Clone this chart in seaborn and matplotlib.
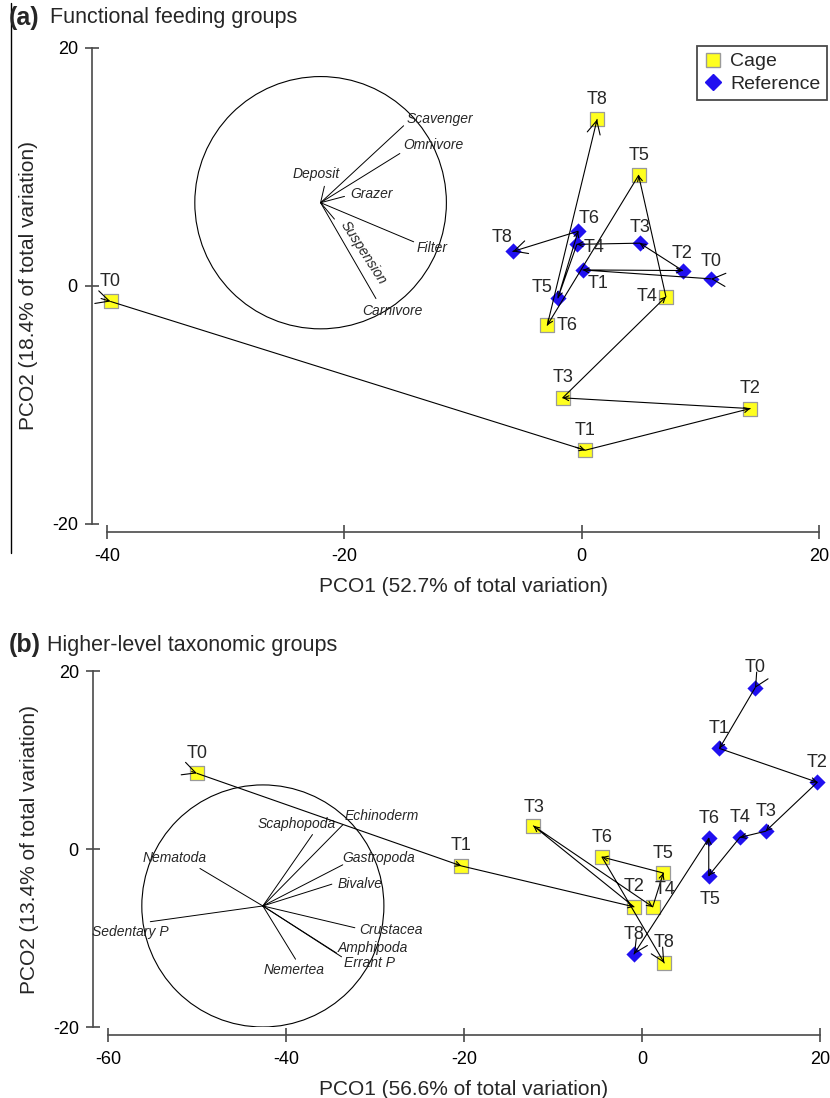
import numpy as np
import pandas as pd
import seaborn as sns
import matplotlib.pyplot as plt
from matplotlib.lines import Line2D
from matplotlib.patches import Circle

TIMES = ["T0", "T1", "T2", "T3", "T4", "T5", "T6", "T8"]

# (a) functional feeding groups - PCO scores
A_CAGE_X = [-39.7, 0.3, 14.2, -1.6, 7.1, 4.8, -2.9, 1.3]
A_CAGE_Y = [-1.3, -13.8, -10.3, -9.4, -0.9, 9.3, -3.3, 14.0]
A_REF_X = [10.9, 0.1, 8.5, 4.9, -0.4, -2.0, -0.3, -5.8]
A_REF_Y = [0.6, 1.35, 1.3, 3.6, 3.5, -1.0, 4.6, 2.9]
A_VEC_NAMES = ["Scavenger", "Omnivore", "Deposit", "Grazer", "Filter", "Suspension", "Carnivore"]
A_VEC_X = [0.66, 0.63, 0.03, 0.19, 0.74, 0.11, 0.44]
A_VEC_Y = [0.61, 0.39, 0.13, 0.05, -0.31, -0.13, -0.76]

# (b) higher-level taxonomic groups
B_CAGE_X = [-50.0, -20.3, -0.9, -12.2, 1.2, 2.4, -4.5, 2.5]
B_CAGE_Y = [8.5, -1.9, -6.5, 2.6, -6.5, -2.7, -0.9, -12.8]
B_REF_X = [12.7, 8.7, 19.7, 13.9, 11.0, 7.5, 7.5, -0.9]
B_REF_Y = [18.1, 11.3, 7.5, 2.0, 1.3, -3.0, 1.2, -11.8]
B_VEC_NAMES = ["Echinoderm", "Scaphopoda", "Gastropoda", "Bivalve", "Crustacea",
               "Amphipoda", "Errant P", "Nemertea", "Nematoda", "Sedentary P"]
B_VEC_X = [0.66, 0.41, 0.66, 0.57, 0.76, 0.61, 0.65, 0.27, -0.52, -0.93]
B_VEC_Y = [0.67, 0.59, 0.34, 0.18, -0.18, -0.39, -0.42, -0.44, 0.31, -0.13]

YELLOW = "#ffff1f"
BLUE = "#2010f0"
AXCOL = "#4a4a4a"

sns.set_style("white")
plt.rcParams["font.family"] = ["Liberation Sans", "DejaVu Sans"]

W, H = 830, 1098
fig = plt.figure(figsize=(W / 100, H / 100), dpi=100)

# label placement (pixels): default is centred above the marker
A_LAB = {("Cage", "T4"): (-8, 0, "right"), ("Cage", "T6"): (9, 0, "left"),
         ("Reference", "T1"): (5, -14, "left"), ("Reference", "T4"): (7, -3, "left"),
         ("Reference", "T5"): (-5, 10, "right"), ("Reference", "T6"): (1, 13, "left"),
         ("Reference", "T8"): (-11, 14, "center"), ("Reference", "T0"): (0, 17, "center"),
         ("Reference", "T2"): (0, 17, "center"), ("Reference", "T3"): (0, 16, "center")}
B_LAB = {("Reference", "T5"): (1, -24, "center"), ("Cage", "T4"): (12, 17, "center"),
         ("Cage", "T3"): (1, 18, "center")}
A_VLAB = {"Scavenger": (3, 7, "left", 0), "Omnivore": (3, 9, "left", 0),
          "Deposit": (-8, 12, "center", 0), "Grazer": (6, 2, "left", 0),
          "Filter": (3, -6, "left", 0), "Suspension": (29, -34, "center", -57),
          "Carnivore": (-14, -12, "left", 0)}
B_VLAB = {"Echinoderm": (2, 9, "left"), "Scaphopoda": (-16, 11, "center"),
          "Gastropoda": (0, 7, "left"), "Bivalve": (6, 0, "left"),
          "Crustacea": (4, -2, "left"), "Amphipoda": (1, 5, "left"),
          "Errant P": (2, -6, "left"), "Nemertea": (-1, -11, "center"),
          "Nematoda": (-25, 10, "center"), "Sedentary P": (-20, -10, "center")}


def head(ax, p_from, p_to, big):
    p_from, p_to = np.asarray(p_from), np.asarray(p_to)
    tail = p_to - 0.02 * (p_to - p_from)
    ms = 19 if big else 7
    ax.annotate("", xy=p_to, xytext=tail,
                arrowprops=dict(arrowstyle="->,head_length=0.5,head_width=0.25",
                                color="black", lw=0.8, shrinkA=0, shrinkB=0,
                                mutation_scale=ms), zorder=4)


def panel(ax, cx, cy, rx, ry, xticks, labpos, vnames, vx, vy, vlab, centre, radius,
          xlab, ylab, legend):
    df = pd.concat([
        pd.DataFrame({"x": cx, "y": cy, "time": TIMES, "site": "Cage"}),
        pd.DataFrame({"x": rx, "y": ry, "time": TIMES, "site": "Reference"})])

    # vector overlay
    ax.add_patch(Circle(centre, radius, fill=False, lw=0.8, color="black", zorder=1))
    for name, lx, ly in zip(vnames, vx, vy):
        ex, ey = centre[0] + radius * lx, centre[1] + radius * ly
        ax.plot([centre[0], ex], [centre[1], ey], color="black", lw=0.7, zorder=1)
        dx, dy, ha, *rot = vlab[name]
        ax.annotate(name, (ex, ey), xytext=(dx, dy), textcoords="offset pixels",
                    ha=ha, va="center", fontsize=10, style="italic",
                    rotation=rot[0] if rot else 0, rotation_mode="anchor")

    sub = df[df.site == "Cage"]
    sns.scatterplot(data=sub, x="x", y="y", marker="s", s=100, color=YELLOW,
                    edgecolor="#9a9a9a", linewidth=0.9, ax=ax, zorder=2,
                    clip_on=False, legend=False)
    sub = df[df.site == "Reference"]
    sns.scatterplot(data=sub, x="x", y="y", marker="D", s=68, color=BLUE,
                    linewidth=0, ax=ax, zorder=2, clip_on=False, legend=False)

    for site in ["Cage", "Reference"]:
        sub = df[df.site == site]
        sns.lineplot(data=sub, x="x", y="y", sort=False, estimator=None,
                     color="black", lw=0.8, ax=ax, zorder=3, legend=False)
        pts = sub[["x", "y"]].to_numpy()
        # start marker at T0, small heads along the path, bigger head at T8
        head(ax, 2 * pts[0] - pts[1], pts[0], True)
        for i in range(1, len(pts)):
            head(ax, pts[i - 1], pts[i], i == len(pts) - 1)
        for t, px, py in zip(sub.time, sub.x, sub.y):
            dx, dy, ha = labpos.get((site, t), (0, 20, "center"))
            ax.annotate(t, (px, py), xytext=(dx, dy), textcoords="offset pixels",
                        ha=ha, va="center", fontsize=13, zorder=5)

    ax.set_xlim(xticks[0], xticks[-1])
    ax.set_ylim(-20, 20)
    ax.set_xticks(xticks)
    ax.set_yticks([-20, 0, 20])
    ax.set_xticklabels([f"{t:g}" for t in xticks])
    ax.set_yticklabels(["-20", "0", "20"])
    for s in ["top", "right"]:
        ax.spines[s].set_visible(False)
    ax.spines["left"].set_bounds(-20, 20)
    ax.spines["bottom"].set_bounds(xticks[0], xticks[-1])
    ax.spines["left"].set_position(("outward", 11))
    ax.spines["bottom"].set_position(("outward", 6))
    for s in ["left", "bottom"]:
        ax.spines[s].set_color(AXCOL)
        ax.spines[s].set_linewidth(1.2)
    ax.tick_params(direction="inout", length=10, width=1.2, color=AXCOL,
                   labelsize=13, labelcolor="black", left=True, bottom=True)
    ax.tick_params(axis="x", pad=6)
    ax.tick_params(axis="y", pad=5)
    ax.set_xlabel(xlab, fontsize=15, labelpad=9)
    ax.set_ylabel(ylab, fontsize=15, labelpad=10)
    ax.grid(False)

    if legend:
        handles = [Line2D([], [], ls="none", marker="s", markerfacecolor=YELLOW,
                          markeredgecolor="#9a9a9a", markersize=10.5, label="Cage"),
                   Line2D([], [], ls="none", marker="D", markerfacecolor=BLUE,
                          markeredgecolor=BLUE, markersize=8.5, label="Reference")]
        leg = ax.legend(handles=handles, loc="upper right", fontsize=14,
                        bbox_to_anchor=(827 / W, 1 - 46 / H),
                        bbox_transform=fig.transFigure, fancybox=False,
                        framealpha=1, borderpad=0.35, handletextpad=0.35,
                        labelspacing=0.25, handlelength=1.0, borderaxespad=0)
        leg.get_frame().set_edgecolor(AXCOL)
        leg.get_frame().set_linewidth(1.3)


ax_a = fig.add_axes([107 / W, 1 - 524 / H, 712 / W, 476 / H])
panel(ax_a, A_CAGE_X, A_CAGE_Y, A_REF_X, A_REF_Y, [-40, -20, 0, 20], A_LAB,
      A_VEC_NAMES, A_VEC_X, A_VEC_Y, A_VLAB, (-22.0, 7.0), 10.6,
      "PCO1 (52.7% of total variation)", "PCO2 (18.4% of total variation)", True)

ax_b = fig.add_axes([108 / W, 1 - 1027 / H, 712 / W, 356 / H])
panel(ax_b, B_CAGE_X, B_CAGE_Y, B_REF_X, B_REF_Y, [-60, -40, -20, 0, 20], B_LAB,
      B_VEC_NAMES, B_VEC_X, B_VEC_Y, B_VLAB, (-42.6, -6.4), 13.6,
      "PCO1 (56.6% of total variation)", "PCO2 (13.4% of total variation)", False)

# panel titles
fig.text(9 / W, 1 - 18 / H, "(a)", fontsize=18, weight="bold", va="center")
fig.text(50 / W, 1 - 18 / H, "Functional feeding groups", fontsize=15.5, va="center")
fig.text(9 / W, 1 - 645 / H, "(b)", fontsize=18, weight="bold", va="center")
fig.text(47 / W, 1 - 645 / H, "Higher-level taxonomic groups", fontsize=15.5, va="center")

# page border line on the left of the upper panel
fig.add_artist(Line2D([11 / W, 11 / W], [1 - 3 / H, 1 - 553 / H],
                      transform=fig.transFigure, color="black", lw=1))

fig.savefig("out.png", dpi=100)
